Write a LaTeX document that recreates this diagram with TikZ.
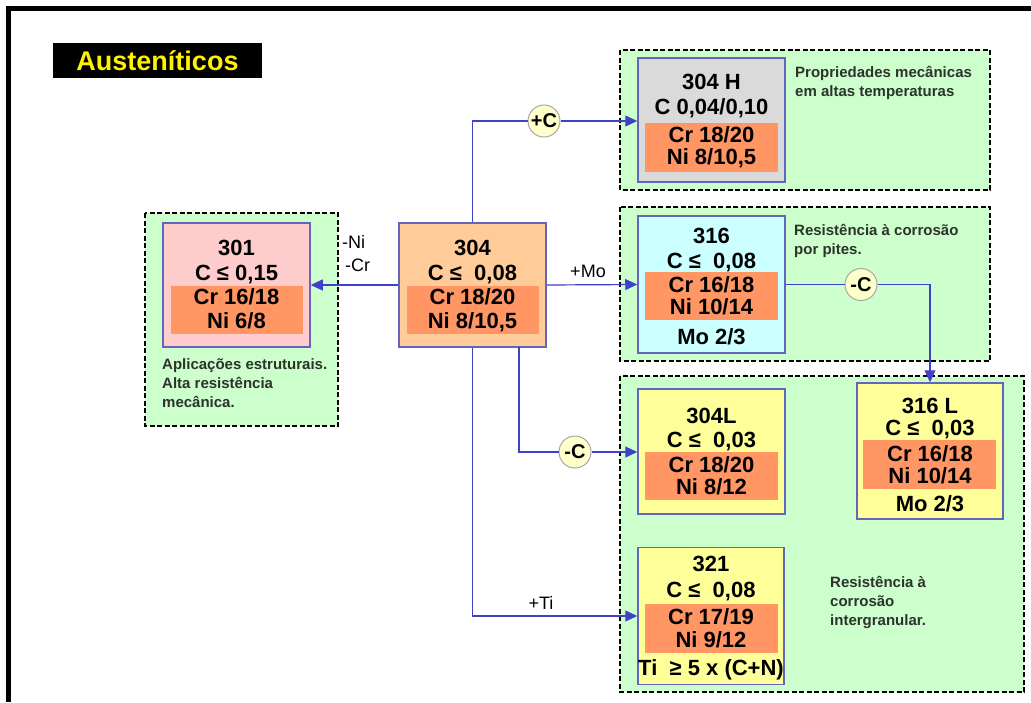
\documentclass[tikz,border=0pt]{standalone}
\usepackage{fontspec}
\setmainfont{Liberation Sans}
\usetikzlibrary{arrows.meta}

\definecolor{verde}{RGB}{204,255,204}
\definecolor{rosa}{RGB}{255,204,204}
\definecolor{pessego}{RGB}{255,204,153}
\definecolor{laranja}{RGB}{255,150,100}
\definecolor{cinza}{RGB}{218,218,218}
\definecolor{ciano}{RGB}{204,255,255}
\definecolor{amarelo}{RGB}{255,255,153}
\definecolor{creme}{RGB}{255,255,204}
\definecolor{borda}{RGB}{100,100,190}
\definecolor{azul}{RGB}{64,64,200}
\definecolor{texto}{RGB}{45,50,45}

\tikzset{
  grupo/.style={draw=black, fill=verde, line width=1.5pt, dash pattern=on 5pt off 2.5pt},
  liga/.style={draw=borda, line width=1.5pt, minimum width=147, minimum height=124, inner sep=0},
  faixa/.style={fill=laranja, minimum width=133, minimum height=48, inner sep=0},
  txt/.style={font=\fontsize{22}{24}\selectfont\bfseries, inner sep=0, text height=15.5, text depth=0},
  nota/.style={font=\fontsize{15}{19}\selectfont\bfseries, text=texto, align=left, inner sep=0, anchor=north west},
  rotulo/.style={font=\fontsize{18}{20}\selectfont, inner sep=0, text height=13, text depth=0},
  adic/.style={circle, draw=gray!70, line width=1pt, fill=creme, minimum size=32, inner sep=0,
    font=\fontsize{20}{24}\selectfont\bfseries},
  linha/.style={draw=azul, line width=1.2pt},
  seta/.style={linha, -{Triangle[length=12pt,width=11pt]}},
}

\begin{document}
\begin{tikzpicture}[x=1pt,y=-1pt]
    \useasboundingbox (0,0) rectangle (1031,702);
    % Frame
    \draw[line width=4.5pt] (8.5,702) -- (8.5,8.5) -- (1031,8.5);

    % Title
    \node[fill=black, minimum width=209, minimum height=35, inner sep=0, text=yellow,
      font=\fontsize{27}{30}\selectfont\bfseries] (titulo) at (157.5,60.5) {Austeníticos};

    % Groups (green dashed areas)
    \draw[grupo] (145,213) rectangle (338,426);
    \draw[grupo] (620,50) rectangle (990,190);
    \draw[grupo] (620,207) rectangle (990,361);
    \draw[grupo] (620,376) rectangle (1024,692);

    % Boxes
    \node[liga, fill=rosa] (a301) at (236.5,285) {};
    \node[liga, fill=pessego] (a304) at (472.5,285) {};
    \node[liga, fill=cinza] (a304h) at (711.5,120) {};
    \node[liga, fill=ciano, minimum height=137] (a316) at (711.5,284.5) {};
    \node[liga, fill=amarelo, minimum height=125] (a304l) at (711.5,451.5) {};
    \node[liga, fill=amarelo, minimum width=146, minimum height=136] (a316l) at (930,451) {};
    \node[liga, fill=amarelo, minimum width=146, minimum height=137] (a321) at (711,616) {};

    % Orange bands
    \node[faixa, minimum width=132] (f301) at (237,310) {};
    \node[faixa, minimum width=132] (f304) at (473,310) {};
    \node[faixa, minimum height=49] (f304h) at (711.5,147.5) {};
    \node[faixa] (f316) at (711.5,296) {};
    \node[faixa] (f304l) at (711.5,476) {};
    \node[faixa, minimum height=49] (f316l) at (929.5,464.5) {};
    \node[faixa, minimum height=49] (f321) at (711,628.5) {};

    % Circles
    \node[adic] (cmais) at (544,121) {+C};
    \node[adic] (cmenos1) at (861,284.5) {-C};
    \node[adic] (cmenos2) at (575,452) {-C};
    \coordinate (p304) at (519,347);

    % Connectors
    \draw[seta] (a304.west) -- (a301.east);
    \draw[linha] (a304.north) |- (cmais.west);
    \draw[seta] (cmais.east) -- (a304h.west |- cmais);
    \draw[seta] (a304.east) -- (a316.west);
    \draw[linha] (a316.east) -- (cmenos1.west);
    \draw[seta] (cmenos1.east) -| (a316l.north);
    \draw[linha] (p304) |- (cmenos2.west);
    \draw[seta] (cmenos2.east) -- (a304l.west |- cmenos2);
    \draw[seta] (a304.south) |- (a321.west);

    % Connector labels
    \node[rotulo, anchor=west] (lni) at (342,242) {-Ni};
    \node[rotulo, anchor=west] (lcr) at (345,265) {-Cr};
    \node[rotulo] (lmo) at (588,271) {+Mo};
    \node[rotulo] (lti) at (541,603) {+Ti};

    % 301
    \node[txt] (t301a) at (236.5,248) {301};
    \node[txt] (t301b) at (236.5,273) {C ≤ 0,15};
    \node[txt] (t301c) at (236.5,297) {Cr 16/18};
    \node[txt] (t301d) at (236.5,321) {Ni 6/8};
    % 304
    \node[txt] (t304a) at (472.5,248) {304};
    \node[txt] (t304b) at (472.5,273) {C ≤\ \ 0,08};
    \node[txt] (t304c) at (472.5,297) {Cr 18/20};
    \node[txt] (t304d) at (472.5,321) {Ni 8/10,5};
    % 304 H
    \node[txt] (t304ha) at (711.5,82) {304 H};
    \node[txt] (t304hb) at (711.5,107) {C 0,04/0,10};
    \node[txt] (t304hc) at (711.5,135) {Cr 18/20};
    \node[txt] (t304hd) at (711.5,157) {Ni 8/10,5};
    % 316
    \node[txt] (t316a) at (711.5,236) {316};
    \node[txt] (t316b) at (711.5,261) {C ≤\ \ 0,08};
    \node[txt] (t316c) at (711.5,285) {Cr 16/18};
    \node[txt] (t316d) at (711.5,307) {Ni 10/14};
    \node[txt] (t316e) at (711.5,337) {Mo 2/3};
    % 304L
    \node[txt] (t304la) at (711.5,416) {304L};
    \node[txt] (t304lb) at (711.5,440) {C ≤\ \ 0,03};
    \node[txt] (t304lc) at (711.5,465) {Cr 18/20};
    \node[txt] (t304ld) at (711.5,487) {Ni 8/12};
    % 316 L
    \node[txt] (t316la) at (930,406) {316 L};
    \node[txt] (t316lb) at (930,428) {C ≤\ \ 0,03};
    \node[txt] (t316lc) at (930,454) {Cr 16/18};
    \node[txt] (t316ld) at (930,476) {Ni 10/14};
    \node[txt] (t316le) at (930,504) {Mo 2/3};
    % 321
    \node[txt] (t321a) at (711,564) {321};
    \node[txt] (t321b) at (711,590) {C ≤\ \ 0,08};
    \node[txt] (t321c) at (711,617) {Cr 17/19};
    \node[txt] (t321d) at (711,640) {Ni 9/12};
    \node[txt] (t321e) at (711,668) {Ti\ \ ≥ 5 x (C+N)};

    % Notes
    \node[nota] (n301) at (162,358) {Aplicações estruturais.\\Alta resistência\\mecânica.};
    \node[nota] (n304h) at (795,66) {Propriedades mecânicas\\em altas temperaturas};
    \node[nota] (n316) at (794,224) {Resistência à corrosão\\por pites.};
    \node[nota] (n321) at (830,576) {Resistência à\\corrosão\\intergranular.};
\end{tikzpicture}
\end{document}
